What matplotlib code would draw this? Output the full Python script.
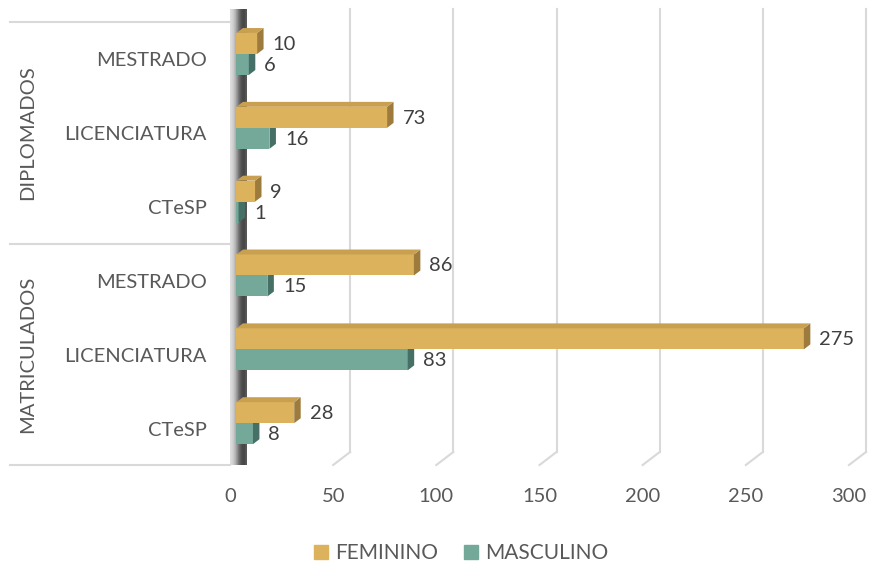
import numpy as np
import matplotlib.pyplot as plt
from matplotlib.patches import Polygon
from matplotlib.lines import Line2D

plt.rcParams['font.family'] = ['Lato', 'DejaVu Sans']

# dados
grupos = ["MATRICULADOS", "DIPLOMADOS"]
cursos = ["CTeSP", "LICENCIATURA", "MESTRADO", "CTeSP", "LICENCIATURA", "MESTRADO"]
feminino = [28, 275, 86, 9, 73, 10]
masculino = [8, 83, 15, 1, 16, 6]
xticks = [0, 50, 100, 150, 200, 250, 300]

cor_fem = "#dcb25c"
cor_fem_topo = "#c9a050"
cor_fem_lado = "#9c7b3c"
cor_masc = "#74a99a"
cor_masc_lado = "#467065"
cor_grelha = "#d9d9d9"
cor_texto = "#595959"

W, H = 872, 570
fig = plt.figure(figsize=(W / 100, H / 100), dpi=100)
# plano da frente: x 230..849 px, y 22..465 px
ax = fig.add_axes([230 / W, (H - 465) / H, (849 - 230) / W, (465 - 22) / H])
ax.set_xlim(0, 300)
ax.set_ylim(0, 6)
ax.axis('off')

px_x = 300 / (849 - 230)      # unidades por pixel em x
px_y = 6 / (465 - 22)         # unidades por pixel em y
dx = 17 * px_x                # profundidade total
dy = 13 * px_y
f1, f2 = 0.38, 0.76           # profundidade das barras
h = 21 * px_y

# grelha (parede do fundo + chao)
for v in xticks[1:]:
    ax.plot([v + dx, v + dx], [dy, 6 + dy], color=cor_grelha, lw=1.5, clip_on=False, zorder=1)
    ax.plot([v, v + dx], [0, dy], color=cor_grelha, lw=1.5, clip_on=False, zorder=1)

# parede lateral (eixo 0)
parede = Polygon([(0, 0), (0, 6), (dx, 6 + dy), (dx, dy)], closed=True,
                 facecolor='none', edgecolor='none', clip_on=False)
ax.add_patch(parede)
grad = np.array([[0.86, 0.82, 0.74, 0.62, 0.48, 0.36, 0.3, 0.28, 0.34]])
im = ax.imshow(grad, cmap='gray', vmin=0, vmax=1, aspect='auto',
               extent=(0, dx, 0, 6 + dy), zorder=2, clip_on=False)
im.set_clip_path(parede)
ax.set_xlim(0, 300)
ax.set_ylim(0, 6)

# eixo das categorias
for yy in [0, 3, 6]:
    ax.plot([-220 * px_x, 0], [yy, yy], color=cor_grelha, lw=1.5, clip_on=False)

centros = np.arange(len(cursos)) + 0.5
x0 = f1 * dx
ddx = (f2 - f1) * dx
ddy = (f2 - f1) * dy

def barras(valores, y_base, cor, cor_lado, cor_topo):
    ax.barh(y_base, valores, height=h, left=x0, align='edge', color=cor,
            zorder=3, clip_on=False)
    for v, yb in zip(valores, y_base):
        xe = x0 + v
        yt = yb + h
        ax.add_patch(Polygon([(xe, yb), (xe, yt), (xe + ddx, yt + ddy), (xe + ddx, yb + ddy)],
                             closed=True, facecolor=cor_lado, edgecolor='none', zorder=3, clip_on=False))
        ax.add_patch(Polygon([(x0, yt), (xe, yt), (xe + ddx, yt + ddy), (x0 + ddx, yt + ddy)],
                             closed=True, facecolor=cor_topo, edgecolor='none', zorder=3, clip_on=False))
        ax.text(xe + ddx + 9 * px_x, yb + h / 2 - 1 * px_y, str(v), ha='left', va='center',
                fontsize=14.5, color='#404040', zorder=4)

base = centros + f1 * dy
barras(masculino, base - h, cor_masc, cor_masc_lado, cor_masc)
barras(feminino, base, cor_fem, cor_fem_lado, cor_fem_topo)

# rotulos
for c, nome in zip(centros, cursos):
    ax.text(-23 * px_x, c - 2 * px_y, nome, ha='right', va='center', fontsize=14.5, color=cor_texto)
for i, g in enumerate(grupos):
    ax.text(-202 * px_x, 1.5 + 3 * i, g, ha='center', va='center', rotation=90,
            fontsize=14.5, color=cor_texto)
for v in xticks:
    ax.text(v, -32 * px_y, str(v), ha='center', va='center', fontsize=14.5, color=cor_texto)

handles = [Line2D([], [], marker='s', ls='none', markersize=10, color=cor_fem),
           Line2D([], [], marker='s', ls='none', markersize=10, color=cor_masc)]
fig.legend(handles, ["FEMININO", "MASCULINO"], loc='center', bbox_to_anchor=(461 / W, 1 - 553 / H),
           ncol=2, frameon=False, fontsize=15, labelcolor=cor_texto,
           handlelength=0.7, handletextpad=0.35, columnspacing=1.2)

fig.savefig("out.png", dpi=100)
